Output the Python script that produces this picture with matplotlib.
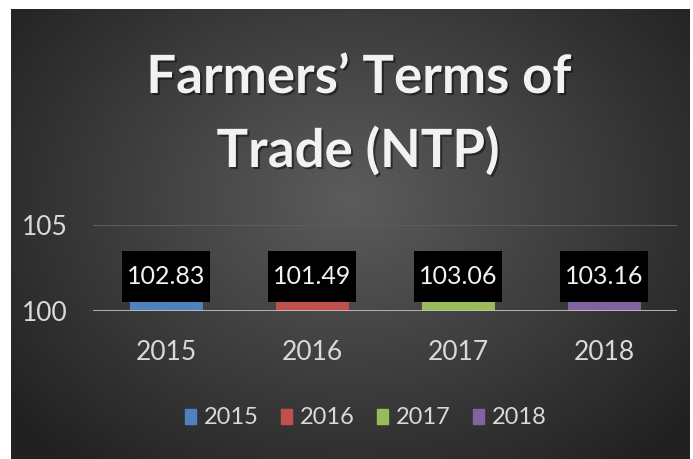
import numpy as np
import matplotlib
matplotlib.use("Agg")
from matplotlib import pyplot as plt
from matplotlib import patheffects as pe

years = ["2015", "2016", "2017", "2018"]
values = [102.83, 101.49, 103.06, 103.16]
colors = ["#4f81bd", "#c0504d", "#9bbb59", "#8064a2"]
title_lines = ["Farmers\u2019 Terms of", "Trade (NTP)"]
yticks = [100, 105]

plt.rcParams['font.family'] = ['Lato', 'DejaVu Sans']
txt = "#d9d9d9"
H = 459.0

fig = plt.figure(figsize=(6.93, 4.59), dpi=100, facecolor="white")

# background panel with radial gradient
bg = fig.add_axes([11/693, 0, 679/693, 450/459])
bg.set_axis_off()
yy, xx = np.mgrid[0:450, 0:679]
d = np.sqrt(((xx - 340) / 420.0)**2 + ((yy - 190) / 330.0)**2)
shade = np.clip(0.36 - 0.22 * d, 0.13, 0.36)
bg.imshow(np.dstack([shade]*3), aspect="auto", extent=[0, 1, 0, 1])
bg.set_xlim(0, 1)
bg.set_ylim(0, 1)

shadow = [pe.withSimplePatchShadow(offset=(1.5, -1.5), shadow_rgbFace="black", alpha=0.45)]
fig.text(359/693, 1 - 93/H, title_lines[0], ha="center", va="baseline", fontsize=38,
         fontweight="bold", color="#f2f2f2", path_effects=shadow)
fig.text(358/693, 1 - 167/H, title_lines[1], ha="center", va="baseline", fontsize=38,
         fontweight="bold", color="#f2f2f2", path_effects=shadow)

ax = fig.add_axes([93/693, 1 - 311/H, 584/693, 86/H])
ax.set_facecolor("none")
x = np.arange(len(years))
ax.bar(x, [v - 100 for v in values], bottom=100, width=0.5, color=colors, zorder=2)
for xi, v in zip(x, values):
    ax.annotate(f"{v:.2f}", (xi, 100), xytext=(0, 25), textcoords="offset points",
                ha="center", va="center", fontsize=18, color="#f2f2f2", zorder=4,
                bbox=dict(boxstyle="square,pad=0.2", fc="black", ec="none",
                          mutation_aspect=2.8))

ax.set_xlim(-0.5, 3.5)
ax.set_ylim(100, 105)
ax.set_yticks(yticks)
ax.set_xticks(x)
ax.set_xticklabels(years)
ax.tick_params(length=0, labelsize=19, colors=txt)
ax.tick_params(axis="x", pad=21)
ax.tick_params(axis="y", pad=18)
ax.axhline(105, color="#5c5c5c", lw=1.5, zorder=1)
ax.axhline(100, color="#bfbfbf", lw=2, zorder=3)
for s in ax.spines.values():
    s.set_visible(False)

handles = [plt.Rectangle((0, 0), 1, 1, color=c) for c in colors]
leg = fig.legend(handles, years, loc="center", bbox_to_anchor=(366/693, 1 - 418/H),
                 ncol=4, frameon=False, fontsize=17, handlelength=0.45, handleheight=0.6,
                 handletextpad=0.35, columnspacing=0.95, labelcolor=txt)

fig.savefig("out.png", dpi=100, facecolor=fig.get_facecolor())
